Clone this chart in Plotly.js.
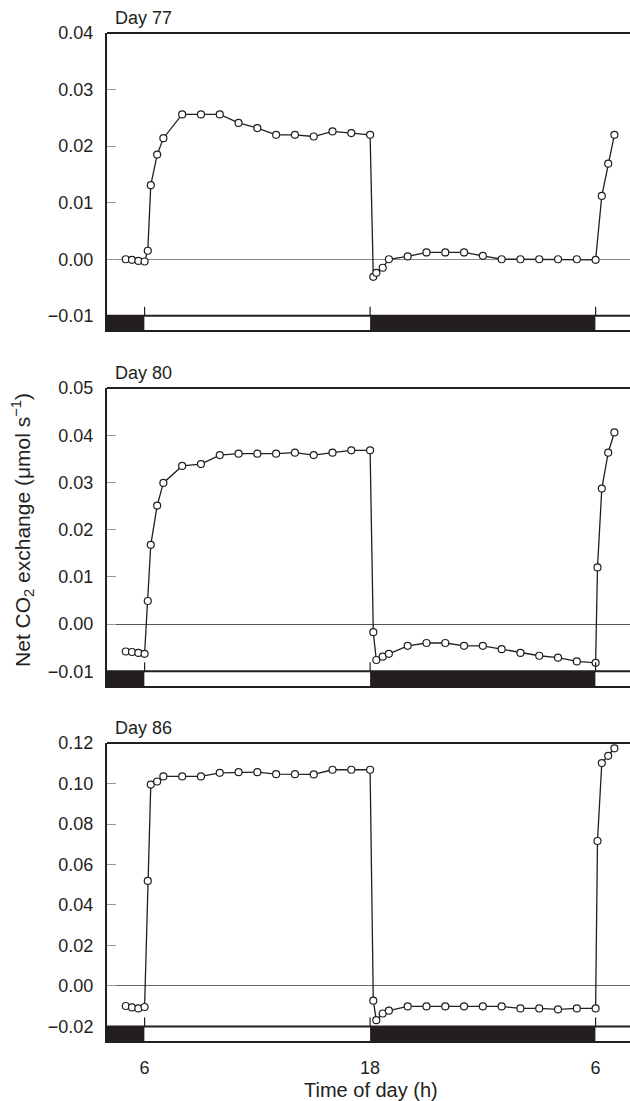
<!DOCTYPE html>
<html>
<head>
<meta charset="utf-8">
<script src="https://cdn.plot.ly/plotly-3.0.1.min.js"></script>
<style>html,body{margin:0;padding:0;background:#fff;}#chart{width:630px;height:1101px;}</style>
</head>
<body>
<div id="chart"></div>
<script>
// ---- data ----
var panelTitles = ["Day 77", "Day 80", "Day 86"];

var hours77 = [5, 5.33, 5.67, 6, 6.17, 6.33, 6.67, 7, 8, 9, 10, 11, 12, 13, 14, 15, 16, 17, 18,
  18.17, 18.33, 18.67, 19, 20, 21, 22, 23, 24, 25, 26, 27, 28, 29, 30, 30.33, 30.67, 31];
var co2Day77 = [0.0000, -0.0001, -0.0003, -0.0004, 0.0015, 0.0131, 0.0185, 0.0214, 0.0256, 0.0256,
  0.0256, 0.0241, 0.0232, 0.0220, 0.0220, 0.0217, 0.0226, 0.0223, 0.0220,
  -0.0031, -0.0024, -0.0015, 0.0000, 0.0005, 0.0012, 0.0012, 0.0012, 0.0006, 0.0000, 0.0000,
  0.0000, 0.0000, 0.0000, -0.0001, 0.0112, 0.0169, 0.0220];

var hours80 = [5, 5.33, 5.67, 6, 6.17, 6.33, 6.67, 7, 8, 9, 10, 11, 12, 13, 14, 15, 16, 17, 18,
  18.17, 18.33, 18.67, 19, 20, 21, 22, 23, 24, 25, 26, 27, 28, 29, 30, 30.1, 30.33, 30.67, 31];
var co2Day80 = [-0.0058, -0.0059, -0.0061, -0.0063, 0.0049, 0.0168, 0.0251, 0.0299, 0.0335, 0.0339,
  0.0358, 0.0361, 0.0361, 0.0361, 0.0363, 0.0358, 0.0363, 0.0368, 0.0368,
  -0.0017, -0.0076, -0.0069, -0.0063, -0.0046, -0.0040, -0.0040, -0.0046, -0.0046, -0.0053,
  -0.0061, -0.0067, -0.0071, -0.0079, -0.0082, 0.0120, 0.0287, 0.0363, 0.0406];

var hours86 = [5, 5.33, 5.67, 6, 6.17, 6.33, 6.67, 7, 8, 9, 10, 11, 12, 13, 14, 15, 16, 17, 18,
  18.17, 18.33, 18.67, 19, 20, 21, 22, 23, 24, 25, 26, 27, 28, 29, 30, 30.1, 30.33, 30.67, 31];
var co2Day86 = [-0.0099, -0.0106, -0.0111, -0.0104, 0.0519, 0.0995, 0.1010, 0.1035, 0.1035, 0.1035,
  0.1053, 0.1056, 0.1056, 0.1046, 0.1046, 0.1045, 0.1068, 0.1068, 0.1068,
  -0.0073, -0.0169, -0.0136, -0.0122, -0.0101, -0.0101, -0.0101, -0.0101, -0.0101, -0.0101,
  -0.0111, -0.0111, -0.0116, -0.0111, -0.0111, 0.0716, 0.1101, 0.1137, 0.1174];

var yTicks77 = [-0.01, 0.00, 0.01, 0.02, 0.03, 0.04];
var yTicks80 = [-0.01, 0.00, 0.01, 0.02, 0.03, 0.04, 0.05];
var yTicks86 = [-0.02, 0.00, 0.02, 0.04, 0.06, 0.08, 0.10, 0.12];
var yTickText77 = ["\u22120.01", "0.00", "0.01", "0.02", "0.03", "0.04"];
var yTickText80 = ["\u22120.01", "0.00", "0.01", "0.02", "0.03", "0.04", "0.05"];
var yTickText86 = ["\u22120.02", "0.00", "0.02", "0.04", "0.06", "0.08", "0.10", "0.12"];

var xTickVals = [6, 18, 30];
var xTickText = ["6", "18", "6"];

// light/dark bar (photoperiod)
var periodStart = [4, 6, 18, 30];
var periodEnd = [6, 18, 30, 33];
var periodDark = [true, false, true, false];

// ---- build ----
var hoursList = [hours77, hours80, hours86];
var valuesList = [co2Day77, co2Day80, co2Day86];
var ticksList = [yTicks77, yTicks80, yTicks86];
var tickTextList = [yTickText77, yTickText80, yTickText86];
var yRanges = [[-0.0125, 0.04], [-0.0131, 0.05], [-0.0272, 0.12]];
var domains = [[0.7054, 1], [0.3522, 0.6478], [0, 0.2956]];
var zeroColors = ["#8a8a8a", "#555555", "#666666"];
var xRange = [4, 31.83];
var FONT = "Liberation Sans, Arial, Helvetica, sans-serif";

var traces = [];
var shapes = [];
var annotations = [];
var layout = {
  width: 630, height: 1101,
  margin: {l: 107, r: 0, t: 33, b: 60, pad: 0},
  paper_bgcolor: "#ffffff", plot_bgcolor: "#ffffff",
  showlegend: false,
  font: {family: FONT, size: 18, color: "#231f20"}
};

for (var p = 0; p < 3; p++) {
  var sfx = p === 0 ? "" : String(p + 1);
  var xa = "x" + sfx, ya = "y" + sfx;
  traces.push({
    x: hoursList[p], y: valuesList[p], xaxis: xa, yaxis: ya,
    type: "scatter", mode: "lines+markers", cliponaxis: false,
    line: {color: "#231f20", width: 1.3},
    marker: {symbol: "circle", size: 7, color: "#ffffff", line: {color: "#231f20", width: 1.2}},
    hoverinfo: "skip"
  });
  var last = p === 2;
  layout["xaxis" + sfx] = {
    domain: [0, 1], anchor: ya, range: xRange, showgrid: false, zeroline: false,
    showline: true, linecolor: "#231f20", linewidth: 2,
    tickvals: xTickVals, ticktext: xTickText,
    showticklabels: last, ticks: last ? "outside" : "", ticklen: 9,
    tickcolor: "rgba(0,0,0,0)", tickfont: {family: FONT, size: 18, color: "#231f20"},
    fixedrange: true
  };
  var yr = yRanges[p];
  var tv = ticksList[p];
  layout["yaxis" + sfx] = {
    domain: domains[p], anchor: xa, range: yr, showgrid: false,
    zeroline: true, zerolinecolor: zeroColors[p], zerolinewidth: 1,
    showline: true, linecolor: "#231f20", linewidth: 2,
    tickvals: tv, ticktext: tickTextList[p], ticks: "inside", ticklen: 9, tickwidth: 1,
    tickcolor: "#999999", ticklabelstandoff: 8,
    tickfont: {family: FONT, size: 18, color: "#231f20"}, fixedrange: true
  };
  var barTop = tv[0];
  // photoperiod bar
  for (var k = 0; k < periodStart.length; k++) {
    shapes.push({type: "rect", xref: xa, yref: ya, x0: periodStart[k], x1: periodEnd[k],
      y0: yr[0], y1: barTop, fillcolor: periodDark[k] ? "#231f20" : "#ffffff",
      line: {width: 0}, layer: "below"});
  }
  // bar top line
  shapes.push({type: "line", xref: xa + " domain", yref: ya, x0: 0, x1: 1, y0: barTop, y1: barTop,
    line: {color: "#231f20", width: 2}});
  // top border
  shapes.push({type: "line", xref: xa + " domain", yref: ya + " domain", x0: 0, x1: 1, y0: 1, y1: 1,
    line: {color: "#231f20", width: 2}});
  // tick marks above bar
  for (var t = 0; t < xTickVals.length; t++) {
    shapes.push({type: "line", xref: xa, yref: ya, x0: xTickVals[t], x1: xTickVals[t],
      ysizemode: "pixel", yanchor: barTop, y0: 0, y1: 9,
      line: {color: "#231f20", width: 1.2}});
  }
  annotations.push({text: panelTitles[p], xref: xa + " domain", yref: ya + " domain",
    x: 0.012, y: 1, xanchor: "left", yanchor: "bottom", yshift: 3, showarrow: false,
    font: {family: FONT, size: 18, color: "#231f20"}});
}

annotations.push({text: "Net CO<sub>2</sub> exchange (\u03bcmol s<sup>\u22121</sup>)",
  xref: "paper", yref: "paper", x: -0.1606, y: 0.507, xanchor: "center", yanchor: "middle",
  textangle: -90, showarrow: false, font: {family: FONT, size: 21, color: "#231f20"}});
annotations.push({text: "Time of day (h)", xref: "paper", yref: "paper",
  x: 0.5048, y: -0.0486, xanchor: "center", yanchor: "middle", showarrow: false,
  font: {family: FONT, size: 20, color: "#231f20"}});

layout.shapes = shapes;
layout.annotations = annotations;

Plotly.newPlot("chart", traces, layout, {displayModeBar: false, staticPlot: true});
</script>
</body>
</html>
